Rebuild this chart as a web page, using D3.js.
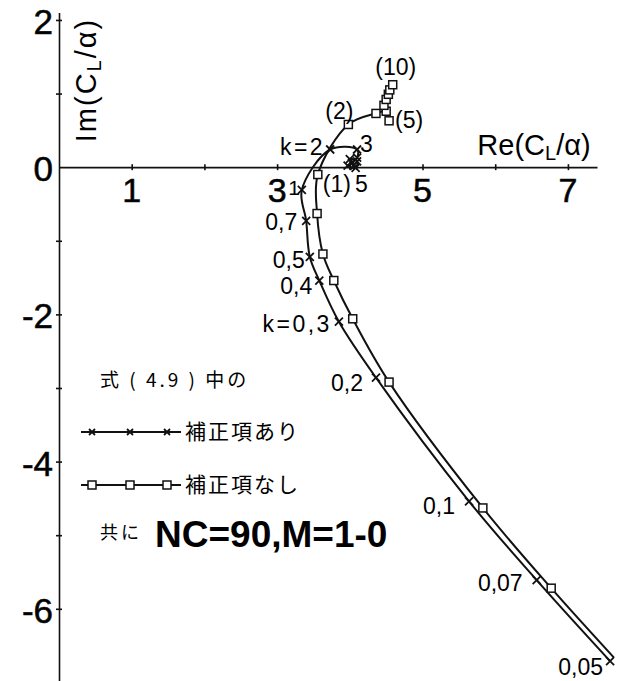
<!DOCTYPE html>
<html>
<head>
<meta charset="utf-8">
<script src="https://cdn.jsdelivr.net/npm/d3@7"></script>
<style>
  body { margin: 0; background: #fff; }
  svg { display: block; }
</style>
</head>
<body>
<div id="chart"></div>
<script>
// reduced frequency k for each point
const kValues = [0.05, 0.07, 0.1, 0.2, 0.3, 0.4, 0.5, 0.7, 1, 2, 3, 4, 5, 6, 7, 8, 9, 10];

// 補正項あり (x markers)
const withCorrRe = [7.58, 6.57, 5.64, 4.36, 3.85, 3.58, 3.45, 3.40, 3.34, 3.73, 4.10, 4.10, 4.03, 3.97, 4.08, 4.10, 4.00, 4.05];
const withCorrIm = [-6.71, -5.61, -4.54, -2.86, -2.10, -1.54, -1.22, -0.73, -0.31, 0.24, 0.24, 0.13, 0.06, 0.02, -0.01, 0.08, 0.11, 0.02];

// 補正項なし (square markers)
const noCorrRe = [7.63, 6.77, 5.83, 4.54, 4.04, 3.78, 3.63, 3.55, 3.56, 3.98, 4.36, 4.50, 4.54, 4.47, 4.50, 4.53, 4.55, 4.59];
const noCorrIm = [-6.66, -5.72, -4.63, -2.92, -2.06, -1.54, -1.18, -0.63, -0.10, 0.58, 0.73, 0.76, 0.63, 0.84, 0.92, 0.99, 1.05, 1.12];
const noCorrUnmarkedK = [0.05];

const withCorrLabelK = [0.05, 0.07, 0.1, 0.2, 0.3, 0.4, 0.5, 0.7, 1, 2, 3, 5];
const withCorrLabelText = ["0,05", "0,07", "0,1", "0,2", "k=0,3", "0,4", "0,5", "0,7", "1", "k=2", "3", "5"];
const noCorrLabelK = [1, 2, 5, 10];
const noCorrLabelText = ["(1)", "(2)", "(5)", "(10)"];

const xTickValues = [1, 2, 3, 4, 5, 6, 7];
const xTickLabels = [1, 3, 5, 7];
const yTickValues = [2, 1, -1, -2, -3, -4, -5, -6];
const yTickLabels = [2, 0, -2, -4, -6];

const width = 628, height = 681;
const latin = "'Liberation Sans', Arial, sans-serif";
const cjk = "'Noto Sans CJK JP', sans-serif";

let svg = d3.select("#chart").append("svg")
    .attr("width", width)
    .attr("height", height);

svg.append("rect").attr("width", width).attr("height", height).attr("fill", "#fff");

let x = d3.scaleLinear().domain([0, 7.4]).range([59, 597]);
let y = d3.scaleLinear().domain([2.1, -7.0]).range([12.6, 682.4]);

// axes, ticks crossing the line
let xAxis = svg.append("g")
    .attr("transform", "translate(0," + y(0) + ")")
    .call(d3.axisBottom(x).tickValues(xTickValues).tickSize(3).tickSizeOuter(0).tickFormat(""));
xAxis.selectAll(".tick line").attr("y1", -3).attr("y2", 3);

let yAxis = svg.append("g")
    .attr("transform", "translate(" + x(0) + ",0)")
    .call(d3.axisLeft(y).tickValues(yTickValues).tickSize(3).tickSizeOuter(0).tickFormat(""));
yAxis.selectAll(".tick line").attr("x1", -3).attr("x2", 3);

svg.selectAll(".domain").attr("stroke", "#111").attr("stroke-width", 1.6);
svg.selectAll(".tick line").attr("stroke", "#111").attr("stroke-width", 1.6);

svg.selectAll(".ylab")
    .data(yTickLabels)
    .enter().append("text")
    .attr("class", "ylab")
    .attr("x", 53)
    .attr("y", d => y(d) + 14)
    .attr("text-anchor", "end")
    .style("font-family", latin)
    .style("font-size", "35px")
    .style("stroke", "#111")
    .style("stroke-width", 0.6)
    .text(d => d < 0 ? "-" + Math.abs(d) : d);

svg.selectAll(".xlab")
    .data(xTickLabels)
    .enter().append("text")
    .attr("class", "xlab")
    .attr("x", d => x(d))
    .attr("y", 202)
    .attr("text-anchor", "middle")
    .style("font-family", latin)
    .style("font-size", "34px")
    .style("stroke", "#111")
    .style("stroke-width", 0.6)
    .text(d => d);

// axis titles
let imTitle = svg.append("text")
    .attr("transform", "translate(96,80) rotate(-90)")
    .attr("text-anchor", "middle")
    .style("font-family", latin)
    .style("font-size", "29px")
    .style("letter-spacing", "2px");
imTitle.append("tspan").text("Im(C");
imTitle.append("tspan").attr("font-size", "20px").attr("dy", 5).text("L");
imTitle.append("tspan").attr("dy", -5).text("/α)");

let reTitle = svg.append("text")
    .attr("x", 534)
    .attr("y", 155)
    .attr("text-anchor", "middle")
    .style("font-family", latin)
    .style("font-size", "29px");
reTitle.append("tspan").text("Re(C");
reTitle.append("tspan").attr("font-size", "20px").attr("dy", 5).text("L");
reTitle.append("tspan").attr("dy", -5).text("/α)");

// curves
function toPoints(re, im) {
    return kValues.map((k, i) => ({ k: k, re: re[i], im: im[i] }));
}
let withCorr = toPoints(withCorrRe, withCorrIm);
let noCorr = toPoints(noCorrRe, noCorrIm);

let line = d3.line()
    .x(d => x(d.re))
    .y(d => y(d.im))
    .curve(d3.curveCatmullRom.alpha(0.5));

[withCorr, noCorr].forEach(series => {
    svg.append("path")
        .datum(series)
        .attr("d", line)
        .attr("fill", "none")
        .attr("stroke", "#111")
        .attr("stroke-width", 2);
});

function cross(g, cx, cy, r) {
    g.append("path")
        .attr("d", "M" + (cx - r) + "," + (cy - r) + "L" + (cx + r) + "," + (cy + r) +
            "M" + (cx - r) + "," + (cy + r) + "L" + (cx + r) + "," + (cy - r))
        .attr("stroke", "#111")
        .attr("stroke-width", 1.8)
        .attr("fill", "none");
}
function box(g, cx, cy, s) {
    g.append("rect")
        .attr("x", cx - s / 2).attr("y", cy - s / 2)
        .attr("width", s).attr("height", s)
        .attr("fill", "#fff")
        .attr("stroke", "#111")
        .attr("stroke-width", 1.5);
}

let marks = svg.append("g");
withCorr.forEach(d => cross(marks, x(d.re), y(d.im), 4));
noCorr.filter(d => noCorrUnmarkedK.indexOf(d.k) < 0)
    .forEach(d => box(marks, x(d.re), y(d.im), 8));

// k labels: [dx, dy, anchor]
const withCorrLabelPos = [[-7, 14, "end"], [-14, 11, "end"], [-14, 13, "end"], [-13, 13, "end"],
    [-7, 10, "end"], [-7, 13, "end"], [-5, 11, "end"], [-9, 9, "end"], [-2, 5, "end"],
    [-5, 5, "end"], [3, 2, "start"], [3, 29, "start"]];
const noCorrLabelPos = [[5, 17, "start"], [5, -5, "end"], [6, 7, "start"], [3, -10, "middle"]];

function drawLabels(series, ks, texts, pos) {
    ks.forEach((k, i) => {
        let d = series.find(p => p.k === k);
        svg.append("text")
            .attr("x", x(d.re) + pos[i][0])
            .attr("y", y(d.im) + pos[i][1])
            .attr("text-anchor", pos[i][2])
            .style("font-family", latin)
            .style("font-size", texts[i] === "1" ? "21px" : "23px")
            .style("letter-spacing", texts[i].startsWith("k") ? "2.5px" : "0px")
            .text(texts[i]);
    });
}
drawLabels(withCorr, withCorrLabelK, withCorrLabelText, withCorrLabelPos);
drawLabels(noCorr, noCorrLabelK, noCorrLabelText, noCorrLabelPos);

// legend
svg.append("text")
    .attr("x", 100).attr("y", 387)
    .style("font-family", cjk)
    .style("font-size", "19px")
    .style("letter-spacing", "3px")
    .text("式 ( 4.9 ) 中の");

let legend = svg.append("g");
[[432, "補正項あり", "cross"], [485, "補正項なし", "box"]].forEach(row => {
    legend.append("line")
        .attr("x1", 81).attr("x2", 181)
        .attr("y1", row[0]).attr("y2", row[0])
        .attr("stroke", "#111").attr("stroke-width", 2);
    [92, 130, 167].forEach(mx => {
        if (row[2] === "cross") cross(legend, mx, row[0], 3);
        else box(legend, mx, row[0], 8);
    });
    legend.append("text")
        .attr("x", 185).attr("y", row[0] + 7)
        .style("font-family", cjk)
        .style("font-size", "21px")
        .style("letter-spacing", "2px")
        .text(row[1]);
});

svg.append("text")
    .attr("x", 100).attr("y", 539)
    .style("font-family", cjk)
    .style("font-size", "18px")
    .style("letter-spacing", "3px")
    .text("共に");

svg.append("text")
    .attr("x", 155).attr("y", 547)
    .style("font-family", latin)
    .style("font-weight", "bold")
    .style("font-size", "37px")
    .text("NC=90,M=1-0");
</script>
</body>
</html>
